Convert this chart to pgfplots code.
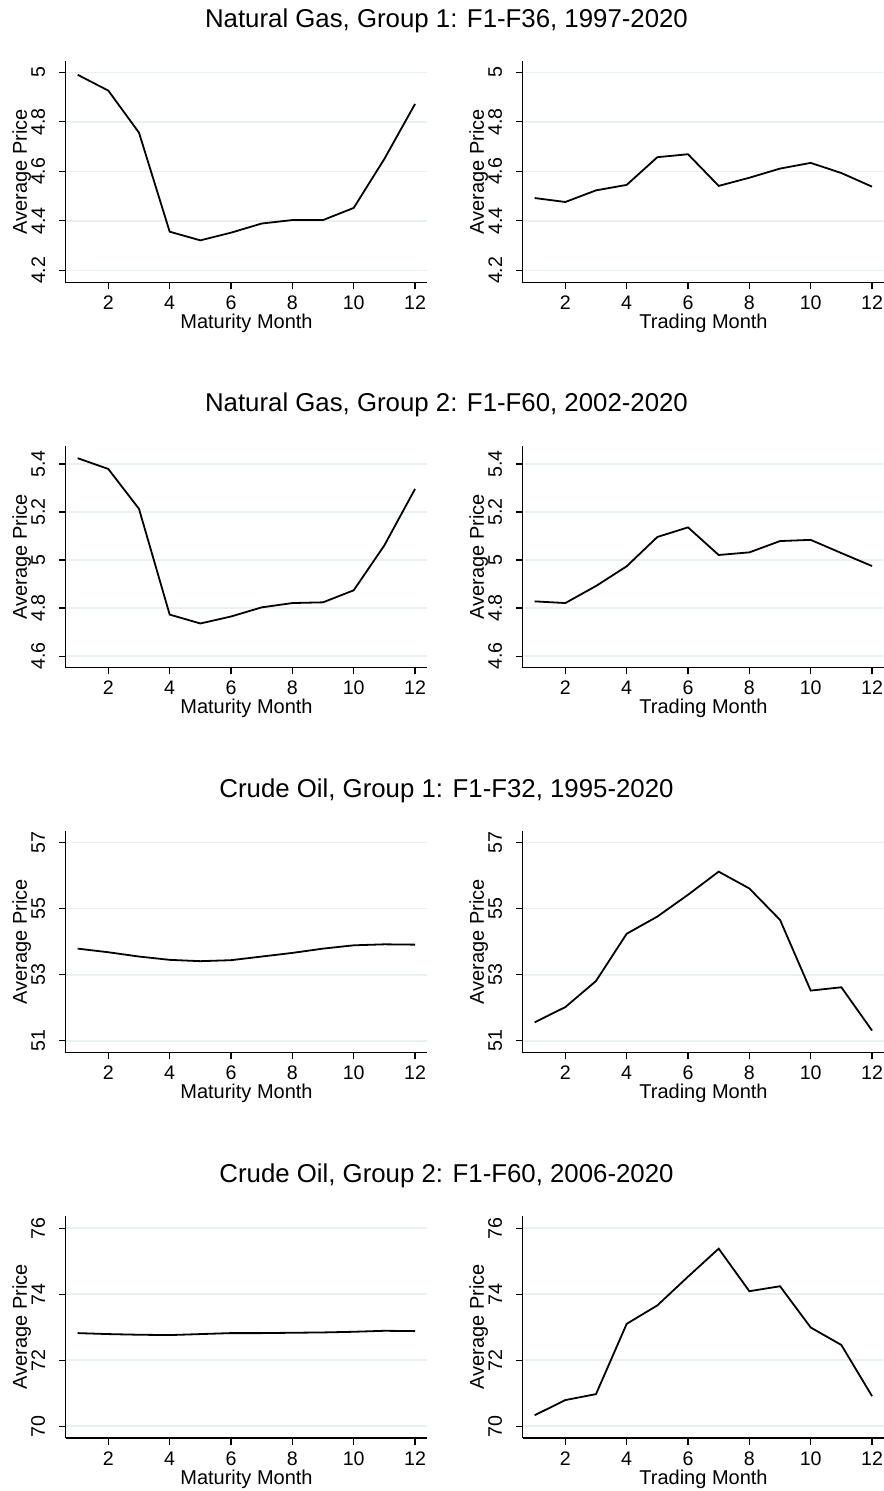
\documentclass[border=0pt]{standalone}
\usepackage{fontspec}
\setmainfont{Liberation Sans}
\usepackage{pgfplots}
\pgfplotsset{compat=1.18}

\definecolor{gridc}{RGB}{232,240,242}

\pgfplotsset{
  panel/.style={
    scale only axis,
    width=180.8pt, height=111pt,
    anchor=south west,
    axis x line*=bottom, axis y line*=left,
    axis line style={line width=0.7pt, -},
    xmin=0.61, xmax=12.4,
    xtick={2,4,...,12},
    tick align=outside,
    major tick length=3.3pt,
    tick style={line width=0.6pt, black},
    ymajorgrids,
    grid style={line width=0.8pt, gridc},
    /pgf/number format/assume math mode=true,
    tick label style={font=\fontsize{9.8}{11}\selectfont},
    xticklabel style={anchor=north, inner sep=0pt, yshift=-3.3pt},
    yticklabel style={rotate=90, anchor=south, inner sep=0pt, yshift=6.8pt},
    label style={font=\fontsize{9.6}{11}\selectfont},
    every axis x label/.style={at={(axis description cs:0.5,-0.185)}, anchor=center},
    every axis y label/.style={at={(axis description cs:-0.1217,0.5)}, rotate=90, anchor=center},
    ylabel={Average Price},
    clip=false,
  },
  dline/.style={black, line width=0.9pt, mark=none},
  ng1/.style={ymin=4.15, ymax=5.047, ytick={4.2,4.4,4.6,4.8,5}},
  ng2/.style={ymin=4.552, ymax=5.476, ytick={4.6,4.8,5,5.2,5.4}},
  co1/.style={ymin=50.64, ymax=57.36, ytick={51,53,55,57}},
  co2/.style={ymin=69.64, ymax=76.37, ytick={70,72,74,76}},
}

\begin{document}
\begin{tikzpicture}
\useasboundingbox (0,0) rectangle (441.5pt,745.5pt);

% row 1: natural gas, group 1
\node[anchor=base, font=\fontsize{12.9}{14}\selectfont] at (223.25pt,731.65pt) {Natural Gas, Group 1: F1-F36, 1997-2020};
\begin{axis}[panel, ng1, at={(32.85pt,604.15pt)}, xlabel={Maturity Month}]
\addplot[dline] coordinates {
(1,4.990) (2,4.926) (3,4.756) (4,4.356) (5,4.321) (6,4.352)
(7,4.389) (8,4.403) (9,4.403) (10,4.452) (11,4.650) (12,4.872)
};
\end{axis}
\begin{axis}[panel, ng1, at={(261.35pt,604.15pt)}, xlabel={Trading Month}]
\addplot[dline] coordinates {
(1,4.492) (2,4.476) (3,4.523) (4,4.545) (5,4.657) (6,4.669)
(7,4.541) (8,4.574) (9,4.611) (10,4.634) (11,4.593) (12,4.538)
};
\end{axis}

% row 2: natural gas, group 2
\node[anchor=base, font=\fontsize{12.9}{14}\selectfont] at (223.25pt,539.5pt) {Natural Gas, Group 2: F1-F60, 2002-2020};
\begin{axis}[panel, ng2, at={(32.85pt,411.65pt)}, xlabel={Maturity Month}]
\addplot[dline] coordinates {
(1,5.424) (2,5.379) (3,5.213) (4,4.773) (5,4.736) (6,4.765)
(7,4.803) (8,4.821) (9,4.824) (10,4.874) (11,5.061) (12,5.296)
};
\end{axis}
\begin{axis}[panel, ng2, at={(261.35pt,411.65pt)}, xlabel={Trading Month}]
\addplot[dline] coordinates {
(1,4.828) (2,4.821) (3,4.892) (4,4.974) (5,5.096) (6,5.136)
(7,5.021) (8,5.032) (9,5.079) (10,5.084) (11,5.029) (12,4.975)
};
\end{axis}

% row 3: crude oil, group 1
\node[anchor=base, font=\fontsize{12.9}{14}\selectfont] at (223.25pt,346.5pt) {Crude Oil, Group 1: F1-F32, 1995-2020};
\begin{axis}[panel, co1, at={(32.85pt,219.15pt)}, xlabel={Maturity Month}]
\addplot[dline] coordinates {
(1,53.79) (2,53.68) (3,53.55) (4,53.45) (5,53.41) (6,53.44)
(7,53.55) (8,53.66) (9,53.79) (10,53.89) (11,53.92) (12,53.91)
};
\end{axis}
\begin{axis}[panel, co1, at={(261.35pt,219.15pt)}, xlabel={Trading Month}]
\addplot[dline] coordinates {
(1,51.56) (2,52.02) (3,52.81) (4,54.24) (5,54.76) (6,55.42)
(7,56.12) (8,55.61) (9,54.66) (10,52.52) (11,52.62) (12,51.31)
};
\end{axis}

% row 4: crude oil, group 2
\node[anchor=base, font=\fontsize{12.9}{14}\selectfont] at (223.25pt,154.15pt) {Crude Oil, Group 2: F1-F60, 2006-2020};
\begin{axis}[panel, co2, at={(32.85pt,26.5pt)}, xlabel={Maturity Month}]
\addplot[dline] coordinates {
(1,72.82) (2,72.79) (3,72.77) (4,72.76) (5,72.79) (6,72.82)
(7,72.82) (8,72.83) (9,72.84) (10,72.86) (11,72.89) (12,72.88)
};
\end{axis}
\begin{axis}[panel, co2, at={(261.35pt,26.5pt)}, xlabel={Trading Month}]
\addplot[dline] coordinates {
(1,70.33) (2,70.79) (3,70.97) (4,73.10) (5,73.66) (6,74.53)
(7,75.38) (8,74.09) (9,74.24) (10,72.99) (11,72.46) (12,70.91)
};
\end{axis}
\end{tikzpicture}
\end{document}
